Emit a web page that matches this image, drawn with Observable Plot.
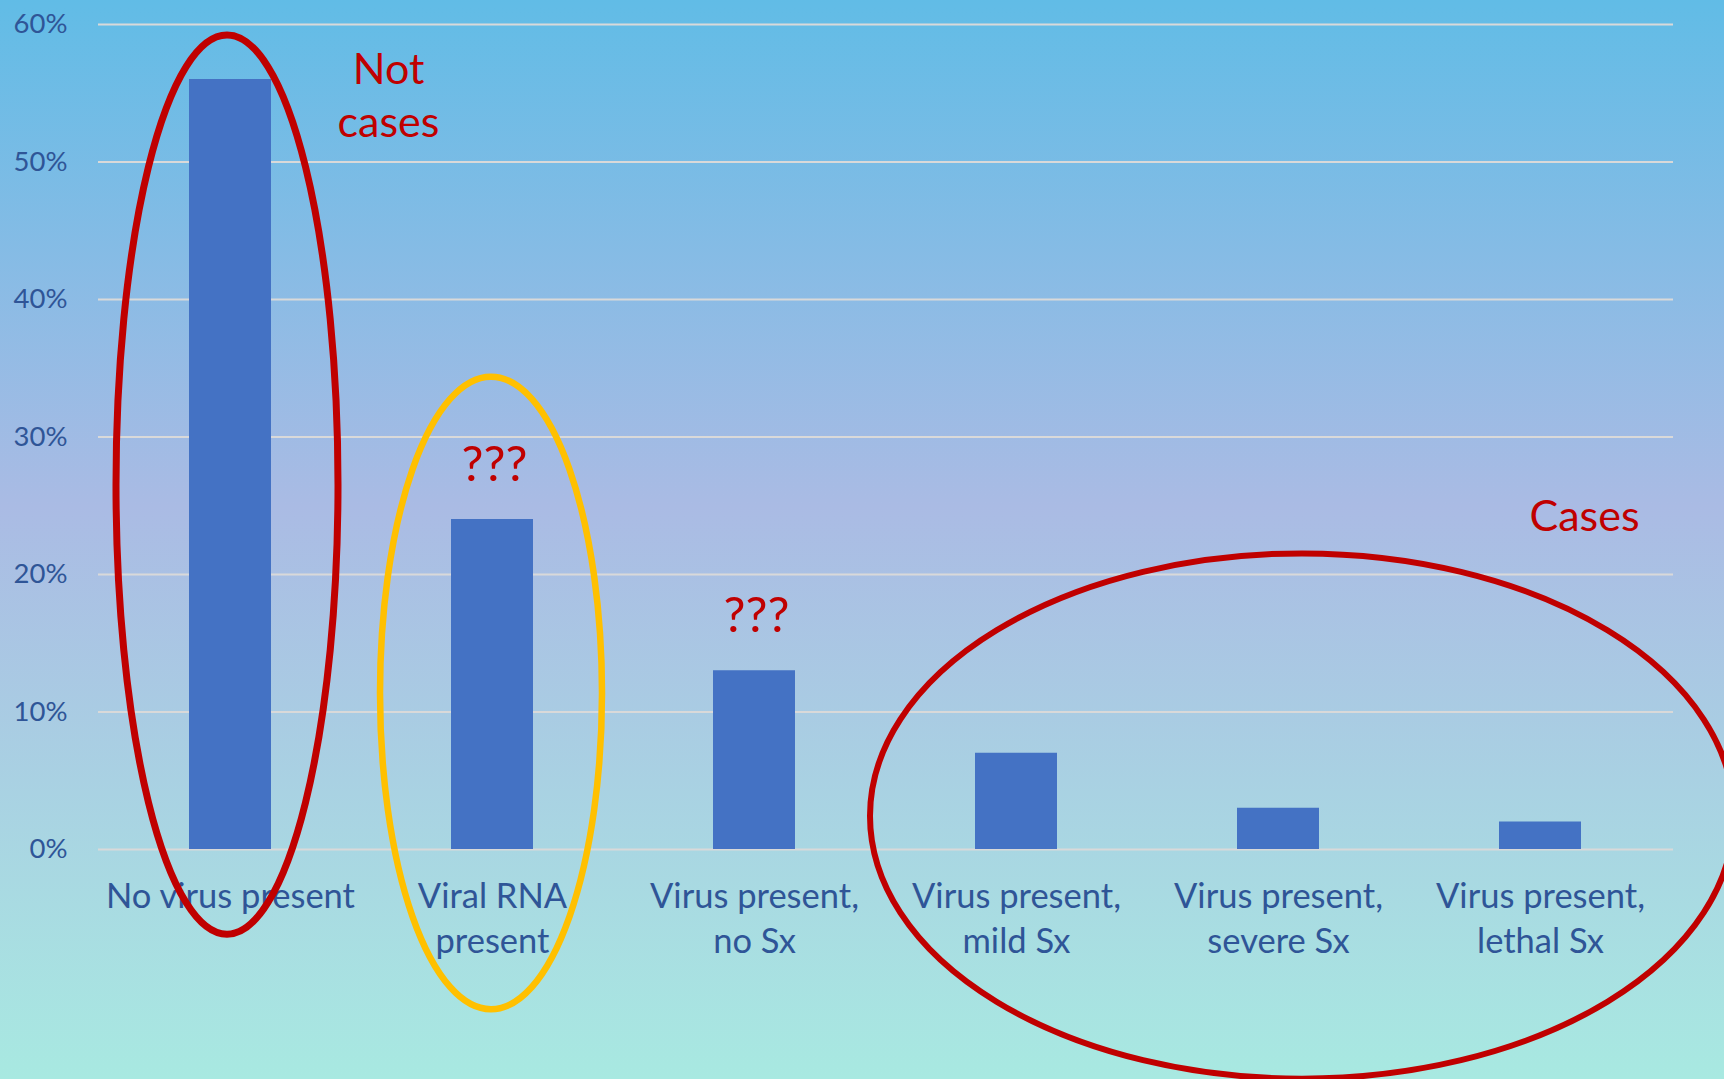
<!DOCTYPE html>
<html>
<head>
<meta charset="utf-8">
<script src="https://cdn.jsdelivr.net/npm/d3@7"></script>
<script src="https://cdn.jsdelivr.net/npm/@observablehq/plot@0.6"></script>
<style>
  html, body { margin: 0; padding: 0; }
  body {
    width: 1724px;
    height: 1079px;
    overflow: hidden;
    background: linear-gradient(to bottom, #61bce6 0%, #aabbe4 47%, #a8e9e1 100%);
  }
  #chart svg { display: block; }
</style>
</head>
<body>
<div id="chart"></div>
<script>
// Share of people in each infection state
const categories = [
  "No virus present",
  "Viral RNA present",
  "Virus present, no Sx",
  "Virus present, mild Sx",
  "Virus present, severe Sx",
  "Virus present, lethal Sx"
];
const tickLabels = [
  "No virus present",
  "Viral RNA\npresent",
  "Virus present,\nno Sx",
  "Virus present,\nmild Sx",
  "Virus present,\nsevere Sx",
  "Virus present,\nlethal Sx"
];
const shares = [0.56, 0.24, 0.13, 0.07, 0.03, 0.02];
const yTicks = [0, 0.1, 0.2, 0.3, 0.4, 0.5, 0.6];

// Annotation words and where they sit (category, value)
const noteTexts = ["Not\ncases", "???", "???", "Cases"];
const noteCategories = [categories[0], categories[1], categories[2], categories[5]];
const noteValues = [0.518, 0.268, 0.158, 0.232];

const table = categories.map((c, i) => ({category: c, share: shares[i]}));
const labelOf = new Map(categories.map((c, i) => [c, tickLabels[i]]));
const notes = noteTexts.map((t, i) => ({text: t, category: noteCategories[i], value: noteValues[i]}));

const red = "#C00000";
const gold = "#FFC000";
const ink = "#2F5597";

// Hand-drawn grouping rings around the bars
function rings(index, scales) {
  const x = scales.x, y = scales.y;
  const bw = x.bandwidth();
  const cx = (c) => x(c) + bw / 2;
  const defs = [
    {cx: cx(categories[0]) - 3, cy: y(0.265), rx: 111, ry: y(0) - y(0.327), stroke: red, w: 7},
    {cx: cx(categories[1]) - 1, cy: y(0.1135), rx: 111, ry: y(0) - y(0.23), stroke: gold, w: 6.5},
    {cx: cx(categories[4]) + 24, cy: y(0.024), rx: 432, ry: y(0) - y(0.191), stroke: red, w: 6}
  ];
  const g = d3.create("svg:g").attr("fill", "none");
  for (const d of defs) {
    g.append("ellipse")
      .attr("cx", d.cx).attr("cy", d.cy)
      .attr("rx", d.rx).attr("ry", d.ry)
      .attr("stroke", d.stroke)
      .attr("stroke-width", d.w);
  }
  return g.node();
}

const chart = Plot.plot({
  width: 1724,
  height: 1079,
  marginLeft: 98,
  marginRight: 51,
  marginTop: 24,
  marginBottom: 230,
  style: {background: "transparent", fontFamily: "Lato, 'Open Sans', sans-serif"},
  x: {domain: categories, paddingInner: 0.686, paddingOuter: 0.343, align: 0.5},
  y: {domain: [0, 0.6]},
  marks: [
    Plot.ruleY(yTicks, {stroke: "#D9D9D9", strokeWidth: 2}),
    Plot.barY(table, {x: "category", y: "share", fill: "#4472C4"}),
    Plot.axisY({
      ticks: yTicks,
      tickFormat: d3.format(".0%"),
      tickSize: 0,
      tickPadding: 31,
      fontSize: 27.5,
      color: ink,
      label: null
    }),
    Plot.axisX({
      tickSize: 0,
      tickPadding: 27,
      fontSize: 34.5,
      lineHeight: 1.3,
      tickFormat: (d) => labelOf.get(d),
      color: ink,
      label: null
    }),
    Plot.text(notes.slice(0, 1), {
      x: "category", y: "value", text: "text", dx: 158,
      lineAnchor: "bottom", lineHeight: 1.25, fontSize: 43, fill: red
    }),
    Plot.text(notes.slice(1, 3), {
      x: "category", y: "value", text: "text", dx: 2,
      lineAnchor: "bottom", fontSize: 49, fill: red
    }),
    Plot.text(notes.slice(3), {
      x: "category", y: "value", text: "text", dx: 44,
      lineAnchor: "bottom", fontSize: 43, fill: red
    }),
    rings
  ]
});

document.getElementById("chart").append(chart);
</script>
</body>
</html>
